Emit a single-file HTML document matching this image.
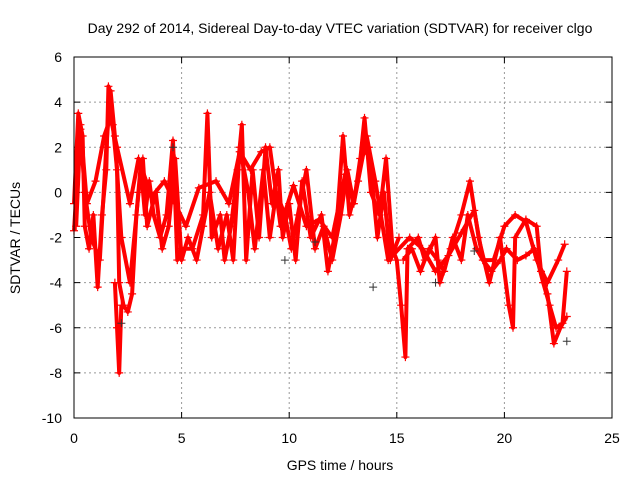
<!DOCTYPE html>
<html><head><meta charset="utf-8"><style>
body{margin:0;background:#fff}
svg{display:block;font-family:"Liberation Sans",sans-serif}
</style></head><body>
<svg id="chart" width="640" height="480">
<text x="340" y="33" font-size="14" text-anchor="middle">Day 292 of 2014, Sidereal Day-to-day VTEC variation (SDTVAR) for receiver clgo</text>
<text x="340" y="470" font-size="14" text-anchor="middle">GPS time / hours</text>
<text x="20" y="238" font-size="14" text-anchor="middle" transform="rotate(-90 20 238)">SDTVAR / TECUs</text>
<g id="grid"></g><g id="ticks"></g><g id="series"></g>
<rect x="74" y="57" width="538" height="361" fill="none" stroke="#000"/>
</svg>
<script>
const xTicks=[0,5,10,15,20,25];
const yTicks=[-10,-8,-6,-4,-2,0,2,4,6];
const trackMainT=[0,0.2,0.4,0.5,0.7,0.9,1.1,1.3,1.5,1.6,1.8,2.0,2.1,2.3,2.5,2.7,2.9,3.1,3.3,3.5,3.7,4.0,4.3,4.6,4.8,5.0,5.5,6.0,6.2,6.4,6.8,7.0,7.3,7.6,7.8,8.0,8.3,8.6,8.9,9.2,9.5,9.7,10,10.3,10.6,11,11.5,11.8,12.2,12.5,12.8,13.2,13.5,13.8,14.2,14.5,14.8,15.0,15.2,15.4,15.5,16,16.3,16.8,17,17.5,18,18.4,18.8,19.3,19.8,20.2,20.4,20.5,21,21.5,21.7,22,22.3,22.6,22.9];
const trackMainV=[-0.5,3.5,2.5,-1.5,-2.5,-1,-4.2,-1,1,4.7,3,1,-4,-5,-5.3,-4.5,-1,1.2,-1,0.5,-1,-2,-1,2.3,-3,-2.5,-2.5,-1,3.5,-2,-1,-3,-1.5,1,3,-3,1,-2,2,-0.5,1,-2,-0.5,-3,0.5,-2,-1,-3.5,-1.5,2.5,-1,0.5,3.3,0,-1,1.5,-2.5,-3,-5,-7.3,-2.5,-2,-3,-2,-4,-2.5,-1,0.5,-2,-4,-2,-5,-6,-2,-1.2,-1.5,-3.5,-4.5,-6.7,-6,-5.5];
const trackUpperT=[0,0.3,0.6,1.0,1.4,1.7,2.0,2.6,3.0,3.6,4.2,4.7,5.2,5.8,6.6,7.2,7.7,8.2,8.7,9.1,9.6,10.2,10.8,11.4,12.0,12.6,13.0,13.6,14.0,14.6,15.6,16.2,16.8,17.4,18.0,18.6,19.0,19.5,20.0,20.5,21.0,21.5,22.0,22.5,22.8];
const trackUpperV=[-1.7,3.0,-0.5,0.5,2.5,3.3,2.0,-0.5,1.5,-0.2,0.5,-0.5,-1.5,0.2,0.5,-0.5,1.8,1.0,1.8,2.0,-1.5,0.3,-1.5,-1.2,-2.0,0.8,-0.5,2.5,0.5,-3.0,-2.0,-2.5,-3.5,-2.8,-1.8,-0.8,-3.0,-3.0,-1.5,-1.0,-1.3,-3.0,-4.0,-3.0,-2.3];
const trackMidT=[0.1,0.3,0.5,0.8,1.2,1.5,1.7,1.9,2.2,2.6,3.0,3.2,3.4,3.8,4.1,4.4,4.7,5.0,5.3,5.7,6.0,6.3,6.7,7.1,7.4,7.7,8.1,8.4,8.8,9.1,9.4,9.8,10.1,10.4,10.8,11.2,11.6,12.0,12.4,12.7,13.0,13.3,13.7,14.1,14.4,14.7,15.1];
const trackMidV=[-1.5,2.8,0,-2,-3,2,4.5,2.5,-2,-4,0,1.5,-1.5,0,-2.5,-1.5,1.5,-3,-2,-3,-1.5,0,-2.5,-1,-3,2,0,-2.5,1,-2,0,-1,-2.5,-1,1,-2.5,-1.5,-3,-1,1,-0.5,1.5,2,-2,0,-3,-2];
const trackLateT=[15.3,15.7,16.1,16.5,16.9,17.2,17.6,18.0,18.3,18.7,19.0,19.4,19.8,20.1,20.6,21.0,21.4,21.8,22.1,22.4,22.7,22.9];
const trackLateV=[-3,-2.5,-3.5,-2.5,-3,-3.5,-2,-3,-1,-2.5,-3,-3.5,-3,-2.5,-3,-2.8,-2.5,-4,-5,-6,-5.8,-3.5];
const trackDipT=[1.9,2.0,2.1,2.2];
const trackDipV=[-4,-6,-8,-5];
const greyT=[2.2,4.6,9.8,11.2,13.9,16.8,18.6,22.9];
const greyV=[-5.8,2.0,-3.0,-2.2,-4.2,-4.0,-2.6,-6.6];
const X=t=>74+t*538/25, Y=v=>418-(v+10)*361/16;
const NS="http://www.w3.org/2000/svg";
const grid=document.getElementById('grid'),ticks=document.getElementById('ticks'),series=document.getElementById('series');
function mk(tag,attrs,parent){const e=document.createElementNS(NS,tag);for(const k in attrs)e.setAttribute(k,attrs[k]);parent.appendChild(e);return e;}
xTicks.forEach(t=>{
 if(t>0&&t<25){const g=mk('line',{x1:X(t),x2:X(t),y1:57,y2:418,stroke:'#999','stroke-dasharray':'2,3'},grid);
 
 }
 const l=mk('text',{x:X(t),y:443,'font-size':14,'text-anchor':'middle'},ticks);l.textContent=t;
 
 
 mk('line',{x1:X(t),x2:X(t),y1:418,y2:412,stroke:'#000'},ticks);
 mk('line',{x1:X(t),x2:X(t),y1:57,y2:63,stroke:'#000'},ticks);
});
yTicks.forEach(v=>{
 if(v>-10&&v<6){const g=mk('line',{x1:74,x2:612,y1:Y(v),y2:Y(v),stroke:'#999','stroke-dasharray':'2,3'},grid);
 
 }
 const l=mk('text',{x:62,y:Y(v)+5,'font-size':14,'text-anchor':'end'},ticks);l.textContent=v;
 
 
 mk('line',{x1:74,x2:80,y1:Y(v),y2:Y(v),stroke:'#000'},ticks);
 mk('line',{x1:612,x2:606,y1:Y(v),y2:Y(v),stroke:'#000'},ticks);
});
function drawTrack(T,V,name){
 const p=mk('polyline',{points:T.map((t,i)=>X(t)+','+Y(V[i])).join(' '),fill:'none',stroke:'#f00','stroke-width':4,'stroke-linejoin':'round'},series);
 
 
 T.forEach((t,i)=>{const m=mk('path',{d:`M${X(t)-4},${Y(V[i])}h8M${X(t)},${Y(V[i])-4}v8`,stroke:'#f00','stroke-width':1.2},series);
 
 });
}
drawTrack(trackMainT,trackMainV,'main-track');
drawTrack(trackUpperT,trackUpperV,'upper-track');
drawTrack(trackMidT,trackMidV,'mid-track');
drawTrack(trackLateT,trackLateV,'late-track');
drawTrack(trackDipT,trackDipV,'dip-track');
greyT.forEach((t,i)=>{const m=mk('path',{d:`M${X(t)-4},${Y(greyV[i])}h8M${X(t)},${Y(greyV[i])-4}v8`,stroke:'#333','stroke-width':1},series);
 
 });
</script>
</body></html>
